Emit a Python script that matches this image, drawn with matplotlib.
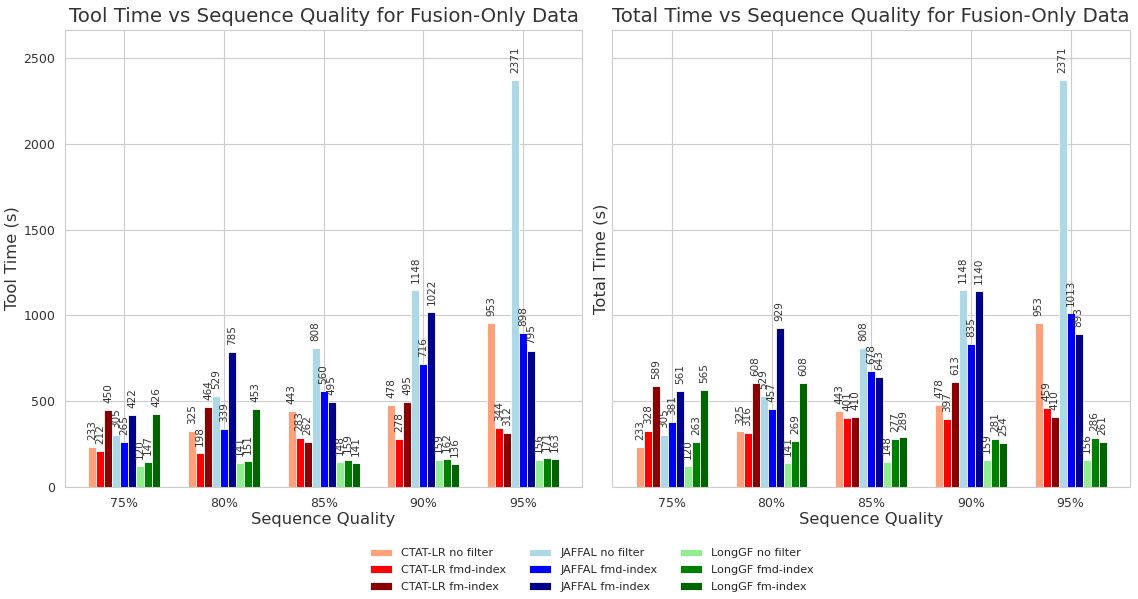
import matplotlib
matplotlib.use("Agg")
import matplotlib.pyplot as plt
import numpy as np
import seaborn as sns

sns.set_style("whitegrid")
plt.rcParams['font.family'] = ['DejaVu Sans']

qualities = ["75%", "80%", "85%", "90%", "95%"]
series_names = ["CTAT-LR no filter", "CTAT-LR fmd-index", "CTAT-LR fm-index",
                "JAFFAL no filter", "JAFFAL fmd-index", "JAFFAL fm-index",
                "LongGF no filter", "LongGF fmd-index", "LongGF fm-index"]
colors = ["lightsalmon", "red", "darkred", "lightblue", "blue", "darkblue",
          "lightgreen", "green", "darkgreen"]

# tool time per series across qualities
tool_ctat_nf = [233, 325, 443, 478, 953]
tool_ctat_fmd = [212, 198, 283, 278, 344]
tool_ctat_fm = [450, 464, 262, 495, 312]
tool_jaffal_nf = [305, 529, 808, 1148, 2371]
tool_jaffal_fmd = [265, 339, 560, 716, 898]
tool_jaffal_fm = [422, 785, 495, 1022, 795]
tool_longgf_nf = [120, 141, 148, 159, 156]
tool_longgf_fmd = [147, 151, 159, 162, 171]
tool_longgf_fm = [426, 453, 141, 136, 163]

# total time per series across qualities
total_ctat_nf = [233, 325, 443, 478, 953]
total_ctat_fmd = [328, 316, 401, 397, 459]
total_ctat_fm = [589, 608, 410, 613, 410]
total_jaffal_nf = [305, 529, 808, 1148, 2371]
total_jaffal_fmd = [381, 457, 678, 835, 1013]
total_jaffal_fm = [561, 929, 643, 1140, 893]
total_longgf_nf = [120, 141, 148, 159, 156]
total_longgf_fmd = [263, 269, 277, 281, 286]
total_longgf_fm = [565, 608, 289, 254, 261]

tool = [tool_ctat_nf, tool_ctat_fmd, tool_ctat_fm, tool_jaffal_nf, tool_jaffal_fmd,
        tool_jaffal_fm, tool_longgf_nf, tool_longgf_fmd, tool_longgf_fm]
total = [total_ctat_nf, total_ctat_fmd, total_ctat_fm, total_jaffal_nf, total_jaffal_fmd,
         total_jaffal_fm, total_longgf_nf, total_longgf_fmd, total_longgf_fm]

fig, axes = plt.subplots(1, 2, figsize=(11.38, 5.99), dpi=100, sharey=True)
fig.subplots_adjust(left=0.057, right=0.993, top=0.95, bottom=0.187, wspace=0.058)

x = np.arange(len(qualities))
w = 0.08
n = len(series_names)

panels = [(axes[0], tool, "Tool Time vs Sequence Quality for Fusion-Only Data", "Tool Time (s)"),
          (axes[1], total, "Total Time vs Sequence Quality for Fusion-Only Data", "Total Time (s)")]
handles = []
for ax, data, title, ylabel in panels:
    for i, (vals, c, name) in enumerate(zip(data, colors, series_names)):
        pos = x + (i - (n - 1) / 2) * w
        bars = ax.bar(pos, vals, w, color=c, label=name, edgecolor="white", linewidth=0.6)
        if ax is axes[0]:
            handles.append(bars)
        for b, v in zip(bars, vals):
            ax.annotate(f"{v}", (b.get_x() + b.get_width() / 2, b.get_height()),
                        xytext=(0, 5), textcoords="offset points",
                        ha="center", va="bottom", rotation=90, fontsize=7.5, color="#333333")
    ax.set_title(title, fontsize=14.2, color="#333333")
    ax.set_xlabel("Sequence Quality", fontsize=11.8, color="#333333", labelpad=2)
    ax.set_ylabel(ylabel, fontsize=11.8, color="#333333", labelpad=2.5)
    ax.set_xticks(x)
    ax.set_xticklabels(qualities)
    ax.tick_params(labelsize=9, colors="#333333")

axes[0].set_ylim(0, 2371 * 1.123)
axes[1].tick_params(labelleft=False)

fig.legend(handles, series_names, loc="center", bbox_to_anchor=(0.52, 0.048),
           ncol=3, frameon=False, fontsize=8.1, handlelength=2.0, labelspacing=0.6,
           columnspacing=2.0)

fig.savefig("out.png", dpi=100)
